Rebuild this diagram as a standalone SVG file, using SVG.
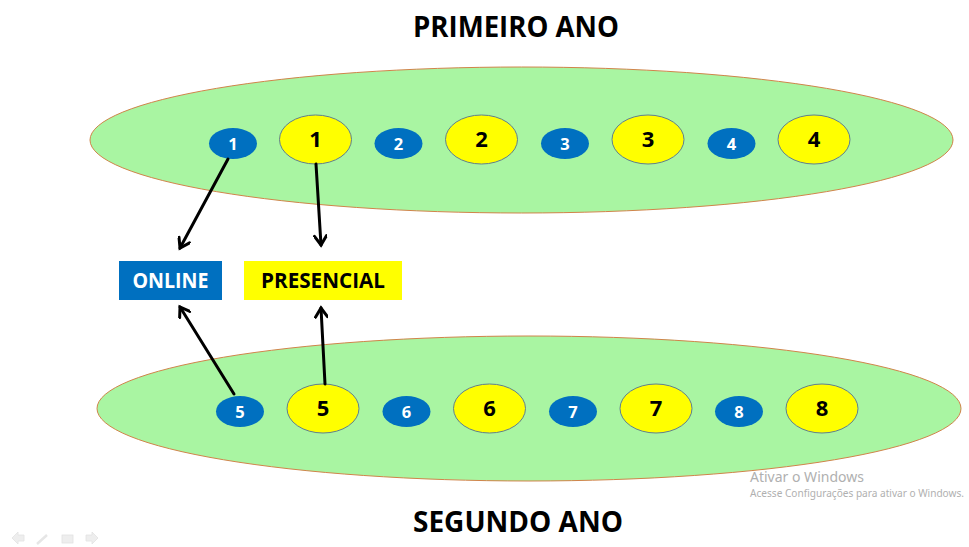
<svg xmlns="http://www.w3.org/2000/svg" width="969" height="547" viewBox="0 0 969 547">
<style>
.band{fill:#A9F5A2;stroke:#D0844A;stroke-width:1}
.blue{fill:#0070C0}
.yel{fill:#FFFF00;stroke:#5F7F8F;stroke-width:1}
.t{font-family:"Open Sans","Liberation Sans",sans-serif;font-weight:bold;text-anchor:middle}
.bn{font-size:16.5px;fill:#fff}
.yn{font-size:22px;fill:#000}
.title{font-size:28px;fill:#000}
.lbl{font-size:21px}
.arr{stroke:#000;stroke-width:3;fill:none;stroke-linecap:round}
.wm{font-family:"Noto Sans","Open Sans",sans-serif;fill:#B0B0B0}
</style>
<defs>
<marker id="ah" markerWidth="14" markerHeight="14" refX="11" refY="7" orient="auto" markerUnits="userSpaceOnUse">
<path d="M2,1 L11,7 L2,13" fill="none" stroke="#000" stroke-width="3" stroke-linecap="round" stroke-linejoin="miter"/>
</marker>
</defs>
<rect width="969" height="547" fill="#fff"/>
<g id="title-top"><text class="t title" x="516" y="37" textLength="206" lengthAdjust="spacingAndGlyphs">PRIMEIRO ANO</text></g>
<g id="title-bottom"><text class="t title" x="518" y="532" textLength="210" lengthAdjust="spacingAndGlyphs">SEGUNDO ANO</text></g>
<g id="band-top"><ellipse class="band" cx="521.5" cy="140" rx="431.5" ry="73"/></g>
<g id="band-bottom"><ellipse class="band" cx="529" cy="408.5" rx="432" ry="72.5"/></g>
<g id="b1"><ellipse class="blue" cx="233" cy="143.5" rx="24" ry="15.5"/><text class="t bn" x="233" y="149.5">1</text></g>
<g id="y1"><ellipse class="yel" cx="315.5" cy="139.5" rx="36" ry="24.5"/><text class="t yn" x="315.5" y="147">1</text></g>
<g id="b2"><ellipse class="blue" cx="398.5" cy="143.5" rx="24" ry="15.5"/><text class="t bn" x="398.5" y="149.5">2</text></g>
<g id="y2"><ellipse class="yel" cx="481.5" cy="139.5" rx="36" ry="24.5"/><text class="t yn" x="481.5" y="147">2</text></g>
<g id="b3"><ellipse class="blue" cx="565" cy="143.5" rx="24" ry="15.5"/><text class="t bn" x="565" y="149.5">3</text></g>
<g id="y3"><ellipse class="yel" cx="648" cy="139.5" rx="36" ry="24.5"/><text class="t yn" x="648" y="147">3</text></g>
<g id="b4"><ellipse class="blue" cx="731.5" cy="143.5" rx="24" ry="15.5"/><text class="t bn" x="731.5" y="149.5">4</text></g>
<g id="y4"><ellipse class="yel" cx="814" cy="139.5" rx="36" ry="24.5"/><text class="t yn" x="814" y="147">4</text></g>
<g id="b5"><ellipse class="blue" cx="240" cy="411.5" rx="24" ry="15.5"/><text class="t bn" x="240" y="417.5">5</text></g>
<g id="y5"><ellipse class="yel" cx="323" cy="408.5" rx="36" ry="24.5"/><text class="t yn" x="323" y="416">5</text></g>
<g id="b6"><ellipse class="blue" cx="406.5" cy="411.5" rx="24" ry="15.5"/><text class="t bn" x="406.5" y="417.5">6</text></g>
<g id="y6"><ellipse class="yel" cx="489.5" cy="408.5" rx="36" ry="24.5"/><text class="t yn" x="489.5" y="416">6</text></g>
<g id="b7"><ellipse class="blue" cx="573" cy="411.5" rx="24" ry="15.5"/><text class="t bn" x="573" y="417.5">7</text></g>
<g id="y7"><ellipse class="yel" cx="656" cy="408.5" rx="36" ry="24.5"/><text class="t yn" x="656" y="416">7</text></g>
<g id="b8"><ellipse class="blue" cx="739" cy="411.5" rx="24" ry="15.5"/><text class="t bn" x="739" y="417.5">8</text></g>
<g id="y8"><ellipse class="yel" cx="822" cy="408.5" rx="36" ry="24.5"/><text class="t yn" x="822" y="416">8</text></g>
<g id="online"><rect x="119" y="261" width="103" height="39" fill="#0070C0"/><text class="t lbl" x="170.5" y="288" fill="#fff" textLength="76" lengthAdjust="spacingAndGlyphs">ONLINE</text></g>
<g id="presencial"><rect x="244" y="261" width="158" height="39" fill="#FFFF00"/><text class="t lbl" x="323" y="288" fill="#000" textLength="124" lengthAdjust="spacingAndGlyphs">PRESENCIAL</text></g>
<g id="connectors">
<line class="arr" x1="228" y1="159" x2="180" y2="248" marker-end="url(#ah)"/>
<line class="arr" x1="316" y1="164" x2="321" y2="245" marker-end="url(#ah)"/>
<line class="arr" x1="234" y1="394" x2="180" y2="307" marker-end="url(#ah)"/>
<line class="arr" x1="325" y1="384" x2="321" y2="308" marker-end="url(#ah)"/>
</g>
<g id="watermark">
<text class="wm" x="750" y="482" font-size="14">Ativar o Windows</text>
<text class="wm" x="750" y="497" font-size="10.5" textLength="214" lengthAdjust="spacingAndGlyphs">Acesse Configurações para ativar o Windows.</text>
</g>
<g id="nav" fill="#EEEEEE" stroke="#E2E2E2" stroke-width="0.8">
<path d="M12,541 L18,535 L18,538 L24,538 L24,544 L18,544 L18,547 Z" transform="translate(0,-3)"/>
<path d="M37,544 L47,535" stroke="#E6E6E6" stroke-width="2.5"/>
<rect x="62" y="535" width="11" height="8"/>
<path d="M98,541 L92,535 L92,538 L86,538 L86,544 L92,544 L92,547 Z" transform="translate(0,-3)"/>
</g>
</svg>
